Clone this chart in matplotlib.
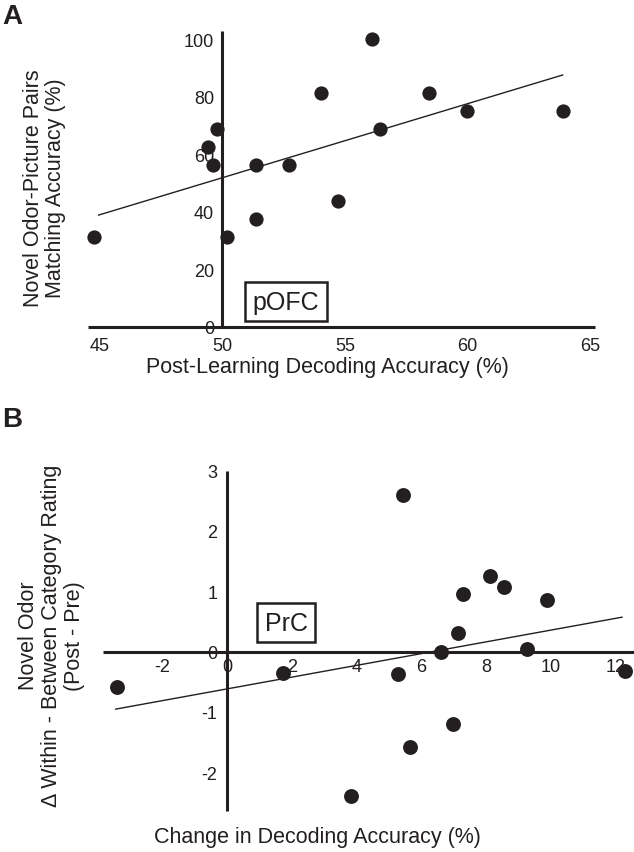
import matplotlib
matplotlib.use("Agg")
import matplotlib.pyplot as plt
import numpy as np

plt.rcParams['font.family'] = ['Liberation Sans', 'DejaVu Sans']
plt.rcParams['axes.unicode_minus'] = False
INK = '#231f20'

# Panel A data
a_x = [44.78, 49.41, 49.61, 49.79, 50.19, 51.38, 51.38, 52.72, 54.01, 54.70, 56.10, 56.44, 58.43, 59.96, 63.87]
a_y = [31.25, 62.5, 56.25, 68.75, 31.25, 56.25, 37.5, 56.25, 81.25, 43.75, 100.0, 68.75, 81.25, 75.0, 75.0]
a_fit_x = [44.95, 63.87]
a_fit_y = [38.9, 87.6]
a_xticks = [45, 50, 55, 60, 65]
a_yticks = [0, 20, 40, 60, 80, 100]

# Panel B data
b_x = [-3.41, 1.72, 3.82, 5.29, 5.44, 5.66, 6.60, 6.98, 7.12, 7.29, 8.11, 8.56, 9.27, 9.86, 12.27]
b_y = [-0.58, -0.36, -2.40, -0.38, 2.59, -1.58, 0.0, -1.21, 0.30, 0.96, 1.25, 1.07, 0.05, 0.85, -0.33]
b_fit_x = [-3.44, 12.19]
b_fit_y = [-0.955, 0.57]
b_xticks = [-2, 0, 2, 4, 6, 8, 10, 12]
b_yticks = [-2, -1, 0, 1, 2, 3]

W, H = 634, 853
fig = plt.figure(figsize=(W / 100, H / 100), dpi=100)

def px_axes(l, t, r, b):
    return fig.add_axes([l / W, (H - b) / H, (r - l) / W, (b - t) / H])

def style(ax):
    for s in ['top', 'right']:
        ax.spines[s].set_visible(False)
    for s in ['left', 'bottom']:
        ax.spines[s].set_linewidth(2.2)
        ax.spines[s].set_color(INK)
        ax.spines[s].set_capstyle('butt')
    ax.tick_params(length=0, labelsize=13, labelcolor=INK)
    ax.patch.set_visible(False)

# ---------- Panel A ----------
axA = px_axes(88, 31.7, 595, 328)
style(axA)
axA.set_xlim(44.52, 65.19)
axA.set_ylim(0, 103)
axA.spines['left'].set_position(('data', 50))
axA.set_xticks(a_xticks)
axA.set_yticks(a_yticks)
axA.tick_params(axis='x', pad=7)
axA.tick_params(axis='y', pad=6)
axA.plot(a_fit_x, a_fit_y, color=INK, lw=1.0, zorder=2)
axA.scatter(a_x, a_y, s=105, color=INK, zorder=3, clip_on=False, linewidths=0)
axA.text(52.59, 8.86, 'pOFC', fontsize=18, color=INK, ha='center', va='center',
         bbox=dict(boxstyle='square,pad=0.3', fc='white', ec=INK, lw=1.8))

fig.text(44.6 / W, (H - 188) / H, 'Novel Odor-Picture Pairs\nMatching Accuracy (%)',
         rotation=90, ha='center', va='center', fontsize=15.5, color=INK,
         linespacing=1.1, multialignment='center')
fig.text(327 / W, (H - 368) / H, 'Post-Learning Decoding Accuracy (%)',
         ha='center', va='center', fontsize=15.5, color=INK)
fig.text(12 / W, (H - 17) / H, 'A', ha='center', va='center', fontsize=20,
         fontweight='bold', color=INK)

# ---------- Panel B ----------
axB = px_axes(103, 471.7, 634, 811.7)
style(axB)
axB.set_xlim(-3.83, 12.56)
axB.set_ylim(-2.64, 3.0)
axB.spines['left'].set_position(('data', 0))
axB.spines['bottom'].set_position(('data', 0))
axB.set_xticks(b_xticks)
axB.set_yticks(b_yticks)
axB.tick_params(axis='x', pad=5)
axB.tick_params(axis='y', pad=7)
axB.plot(b_fit_x, b_fit_y, color=INK, lw=1.0, zorder=2)
axB.scatter(b_x, b_y, s=115, color=INK, zorder=3, clip_on=False, linewidths=0)
axB.text(1.82, 0.48, 'PrC', fontsize=18, color=INK, ha='center', va='center',
         bbox=dict(boxstyle='square,pad=0.3', fc='white', ec=INK, lw=1.8))

fig.text(51.5 / W, (H - 636) / H,
         'Novel Odor\n\u0394 Within - Between Category Rating\n(Post - Pre)',
         rotation=90, ha='center', va='center', fontsize=15.5, color=INK,
         linespacing=1.15, multialignment='center')
fig.text(317 / W, (H - 838) / H, 'Change in Decoding Accuracy (%)',
         ha='center', va='center', fontsize=15.5, color=INK)
fig.text(12 / W, (H - 420) / H, 'B', ha='center', va='center', fontsize=20,
         fontweight='bold', color=INK)

fig.savefig('out.png', dpi=100, facecolor='white')
